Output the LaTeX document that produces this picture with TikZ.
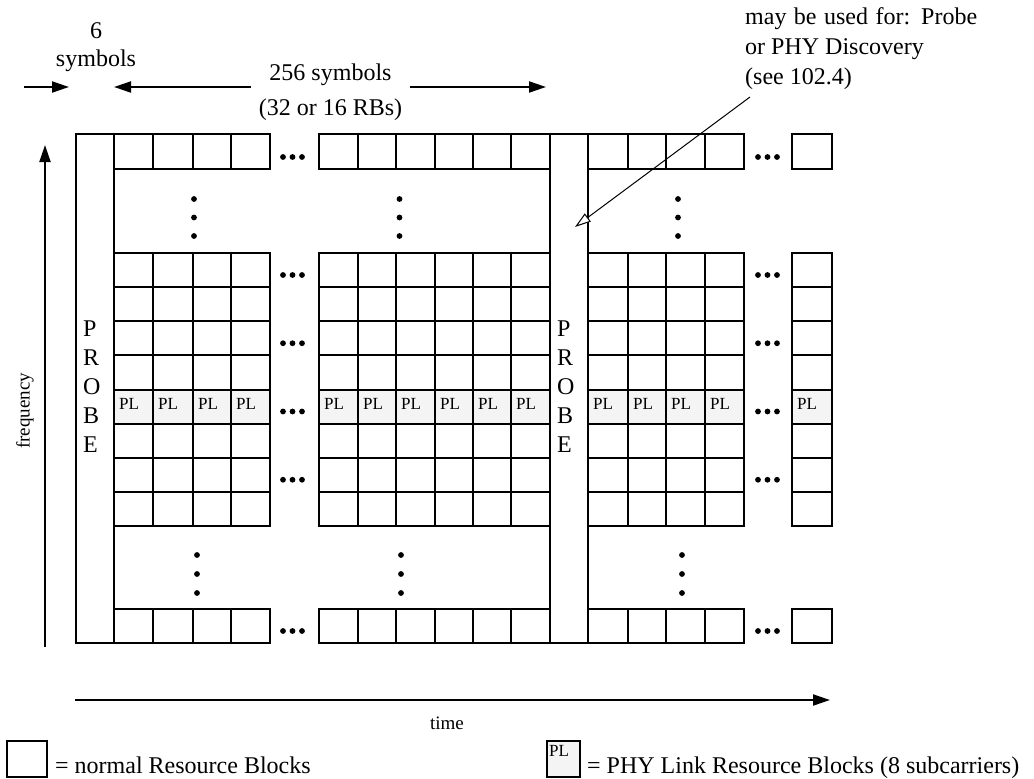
\documentclass[tikz,border=0pt]{standalone}
\usepackage{fontspec}
\setmainfont{Liberation Serif}
\usetikzlibrary{arrows.meta}
\definecolor{plgray}{HTML}{F4F4F4}
\begin{document}
\begin{tikzpicture}[x=1pt,y=-1pt,
  cell/.style={draw,line width=2pt},
  lbl/.style={inner sep=0pt,font=\fontsize{24}{29}\selectfont},
  small/.style={inner sep=0pt,font=\fontsize{19}{22}\selectfont},
  pltext/.style={inner sep=0pt,font=\fontsize{17}{19}\selectfont,anchor=base west},
  probeletter/.style={inner sep=0pt,font=\fontsize{24}{29}\selectfont,anchor=base west},
  axis/.style={line width=2pt,-{Triangle[length=17pt,width=11pt]}},
  note/.style={line width=1pt,-{Triangle[open,length=16pt,width=10pt,fill=white]}},
  dotmark/.style={fill=black}]
\useasboundingbox (0,0) rectangle (1034,779);
\def\colsall{114/153,153/193,193/231,231/270,319/358,358/396,396/435,435/473,473/511,511/550,588/628,628/666,666/705,705/744,792/832}
\def\rowsall{134/169,253/287.125,287.125/321.25,321.25/355.375,355.375/389.5,389.5/423.625,423.625/457.75,457.75/491.875,491.875/526,609/643}
% PL row fill
\foreach \xa/\xb in \colsall {\fill[plgray] (\xa,389.5) rectangle (\xb,423.625);}
% grid cells
\foreach \xa/\xb in \colsall {
  \foreach \ya/\yb in \rowsall {\draw[cell] (\xa,\ya) rectangle (\xb,\yb);}
}
% PL labels
\foreach \xa/\xb in \colsall {\node[pltext] (pl-\xa) at (\xa+5,409) {PL};}
% probe columns
\draw[cell] (76,134) rectangle (114,643);
\draw[cell] (550,134) rectangle (588,643);
\foreach \l [count=\i] in {P,R,O,B,E} {
  \node[probeletter] (pa\i) at (83,307+29*\i) {\l};
  \node[probeletter] (pb\i) at (557,307+29*\i) {\l};
}
% horizontal ellipses
\foreach \y in {157,275,343.25,411.5,479.75,631} {
  \foreach \x in {283,292.5,302,758,767.5,777} {\fill[dotmark] (\x,\y) circle (2.9pt);}
}
% vertical ellipses
\foreach \x in {194,399.5,678} {\foreach \y in {199,217.5,236} {\fill[dotmark] (\x,\y) circle (2.9pt);}}
\foreach \x in {197,401,682} {\foreach \y in {555,574,593} {\fill[dotmark] (\x,\y) circle (2.9pt);}}
% top labels
\node[lbl,anchor=base] (six) at (96,38) {6};
\node[lbl,anchor=base] (sixsym) at (96,66) {symbols};
\node[lbl,anchor=base] (n256) at (330.5,80) {256 symbols};
\node[lbl,anchor=base] (rbs) at (330.5,115) {(32 or 16 RBs)};
\coordinate (s0) at (24,87); \coordinate (s1) at (69,87);
\draw[axis] (s0) -- (s1);
\coordinate (b0) at (251,87); \coordinate (bL) at (114,87);
\coordinate (b1) at (410,87); \coordinate (bR) at (546,87);
\draw[axis] (b0) -- (bL);
\draw[axis] (b1) -- (bR);
% annotation
\node[lbl,anchor=base west] (note1) at (745,24) {\makebox[232pt][s]{may be used for: Probe}};
\node[lbl,anchor=base west] (note2) at (745,54) {or PHY Discovery};
\node[lbl,anchor=base west] (note3) at (745,84) {(see 102.4)};
\coordinate (n0) at (750,97); \coordinate (n1) at (575,227);
\draw[note] (n0) -- (n1);
% axes
\coordinate (f0) at (45,647); \coordinate (f1) at (45,145);
\draw[axis] (f0) -- (f1);
\node[small,rotate=90] (freq) at (25,411) {frequency};
\coordinate (t0) at (75,700); \coordinate (t1) at (830,700);
\draw[axis] (t0) -- (t1);
\node[small] (timelbl) at (447,723) {time};
% legend
\draw[cell] (7,741) rectangle (47,777);
\node[lbl,anchor=base west] (leg1) at (55,773) {= normal Resource Blocks};
\draw[cell,fill=plgray] (547,741) rectangle (580,777);
\node[pltext] (legpl) at (549,756) {PL};
\node[lbl,anchor=base west] (leg2) at (587,773) {= PHY Link Resource Blocks (8 subcarriers)};
\end{tikzpicture}
\end{document}
